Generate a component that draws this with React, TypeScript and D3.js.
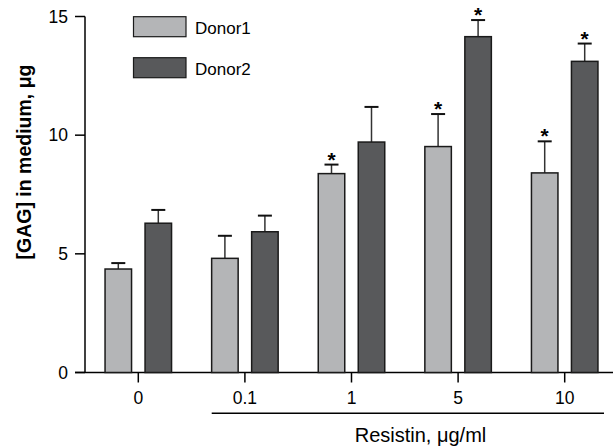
import React, { useEffect, useRef } from 'react';
import * as d3 from 'd3';

const categories = ['0', '0.1', '1', '5', '10'];
const donor1 = [4.36, 4.81, 8.38, 9.52, 8.41];
const donor1Err = [0.25, 0.95, 0.38, 1.37, 1.33];
const donor2 = [6.29, 5.93, 9.71, 14.15, 13.11];
const donor2Err = [0.56, 0.68, 1.48, 0.7, 0.75];
const donor1Star = [false, false, true, true, true];
const donor2Star = [false, false, false, true, true];
const yTicks = [0, 5, 10, 15];

const seriesNames = ['Donor1', 'Donor2'];
const colors = ['#b4b5b7', '#58595b'];

const App = () => {
    const ref = useRef<SVGSVGElement>(null);

    useEffect(() => {
        const svg = d3.select(ref.current);
        svg.selectAll('*').remove();

        const font = '"Liberation Sans", Arial, sans-serif';
        const axisX = 85;

        const y = d3.scaleLinear().domain([0, 15]).range([372.5, 16.5]);
        const x = d3.scalePoint<string>()
            .domain(categories)
            .range([138.3, 564.7]);

        const g = svg.append('g');

        // y axis
        g.append('line')
            .attr('x1', axisX).attr('x2', axisX)
            .attr('y1', y(15)).attr('y2', y(0))
            .attr('stroke', '#000').attr('stroke-width', 1.5);
        yTicks.forEach((t) => {
            g.append('line')
                .attr('x1', axisX - 10).attr('x2', axisX)
                .attr('y1', y(t)).attr('y2', y(t))
                .attr('stroke', '#000').attr('stroke-width', 1.5);
            g.append('text')
                .attr('x', 68).attr('y', y(t) + 6.3)
                .attr('text-anchor', 'end')
                .attr('font-family', font).attr('font-size', 17.5)
                .text(t);
        });

        // x axis
        g.append('line')
            .attr('x1', axisX - 10).attr('x2', 613)
            .attr('y1', y(0)).attr('y2', y(0))
            .attr('stroke', '#000').attr('stroke-width', 1.5);
        categories.forEach((c) => {
            g.append('line')
                .attr('x1', x(c)).attr('x2', x(c))
                .attr('y1', y(0)).attr('y2', y(0) + 10)
                .attr('stroke', '#000').attr('stroke-width', 1.5);
            g.append('text')
                .attr('x', x(c)).attr('y', 404)
                .attr('text-anchor', 'middle')
                .attr('font-family', font).attr('font-size', 17.5)
                .text(c);
        });

        // bars
        const barW = 26.5;
        const offset = 20;
        const series = [
            { values: donor1, errs: donor1Err, stars: donor1Star, dx: -offset },
            { values: donor2, errs: donor2Err, stars: donor2Star, dx: offset },
        ];
        series.forEach((s, si) => {
            s.values.forEach((v, i) => {
                const cx = (x(categories[i]) as number) + s.dx;
                const top = y(v + s.errs[i]);
                g.append('line')
                    .attr('x1', cx).attr('x2', cx)
                    .attr('y1', y(v)).attr('y2', top)
                    .attr('stroke', '#333').attr('stroke-width', 1.5);
                g.append('line')
                    .attr('x1', cx - 7).attr('x2', cx + 7)
                    .attr('y1', top).attr('y2', top)
                    .attr('stroke', '#111').attr('stroke-width', 2);
                g.append('rect')
                    .attr('x', cx - barW / 2).attr('y', y(v))
                    .attr('width', barW).attr('height', y(0) - y(v))
                    .attr('fill', colors[si])
                    .attr('stroke', '#1a1a1a').attr('stroke-width', 1.5);
                if (s.stars[i]) {
                    g.append('text')
                        .attr('x', cx).attr('y', top + 2)
                        .attr('text-anchor', 'middle')
                        .attr('font-family', font).attr('font-size', 21)
                        .attr('font-weight', 'bold')
                        .text('*');
                }
            });
        });

        // legend
        seriesNames.forEach((name, i) => {
            const ly = 16.7 + i * 41;
            g.append('rect')
                .attr('x', 133.5).attr('y', ly)
                .attr('width', 52.5).attr('height', 20)
                .attr('fill', colors[i])
                .attr('stroke', '#1a1a1a').attr('stroke-width', 1.2);
            g.append('text')
                .attr('x', 195).attr('y', ly + 17.5)
                .attr('font-family', font).attr('font-size', 17)
                .text(name);
        });

        // resistin bracket
        g.append('line')
            .attr('x1', 211.7).attr('x2', 604)
            .attr('y1', 413.3).attr('y2', 413.3)
            .attr('stroke', '#000').attr('stroke-width', 1.5);
        g.append('text')
            .attr('x', 420.5).attr('y', 442)
            .attr('text-anchor', 'middle')
            .attr('font-family', font).attr('font-size', 20)
            .text('Resistin, μg/ml');

        // y label
        g.append('text')
            .attr('transform', 'translate(30.5,162) rotate(-90)')
            .attr('text-anchor', 'middle')
            .attr('font-family', font).attr('font-size', 19.5)
            .attr('font-weight', 'bold')
            .text('[GAG] in medium, μg');
    }, []);

    return (
        <svg
            ref={ref}
            width={613}
            height={448}
            style={{ position: 'absolute', left: 0, top: 0, background: '#fff' }}
        />
    );
};

export default App;
